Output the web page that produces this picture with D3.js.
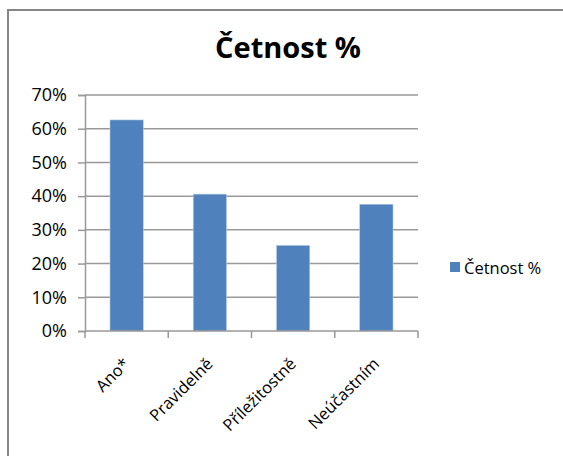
<!DOCTYPE html>
<html>
<head>
<meta charset="utf-8">
<script src="https://cdn.jsdelivr.net/npm/d3@7"></script>
<style>
  body { margin: 0; background: #fff; }
  svg text { font-family: "Open Sans", "Noto Sans", sans-serif; fill: #000; }
</style>
</head>
<body>
<div id="chart"></div>
<script>
// data
const categories = ["Ano*", "Pravidelně", "Příležitostně", "Neúčastním"];
const values = [0.626, 0.406, 0.254, 0.376];
const seriesName = "Četnost %";
const yTicks = [0, 0.1, 0.2, 0.3, 0.4, 0.5, 0.6, 0.7];

const width = 563, height = 456;
const plot = { left: 85, right: 418, top: 95, bottom: 331 };
const barColor = "#4f81bd", gridColor = "#999";

const svg = d3.select("#chart").append("svg")
    .attr("width", width).attr("height", height);

// outer frame (runs off the right/bottom edge like the screenshot)
svg.append("rect")
    .attr("x", 8).attr("y", 10).attr("width", 600).attr("height", 500)
    .attr("fill", "#fff").attr("stroke", "#868686").attr("stroke-width", 2);

svg.append("text")
    .attr("x", 288).attr("y", 58).attr("text-anchor", "middle")
    .style("font-size", "29px").style("font-weight", "bold")
    .text(seriesName);

const x = d3.scaleBand().domain(categories)
    .range([plot.left, plot.right]).paddingInner(0.6).paddingOuter(0.3);
const xEdge = d3.scaleLinear().domain([0, categories.length]).range([plot.left, plot.right]);
const y = d3.scaleLinear().domain([0, 0.7]).range([plot.bottom, plot.top]);

// gridlines
svg.append("g").selectAll("line").data(yTicks.slice(1)).enter().append("line")
    .attr("x1", plot.left).attr("x2", plot.right)
    .attr("y1", d => y(d)).attr("y2", d => y(d))
    .attr("stroke", gridColor).attr("stroke-width", 1.5);

// bars
svg.append("g").selectAll("rect").data(values).enter().append("rect")
    .attr("x", (d, i) => x(categories[i]))
    .attr("y", d => y(d))
    .attr("width", x.bandwidth())
    .attr("height", d => plot.bottom - y(d))
    .attr("fill", barColor)
    .attr("stroke", "#b9cde5").attr("stroke-width", 0.6);

// y axis
const yAxis = svg.append("g").attr("transform", `translate(${plot.left},0)`)
    .call(d3.axisLeft(y).tickValues(yTicks).tickFormat(d3.format(".0%")).tickSizeOuter(0).tickSize(7).tickPadding(11));
yAxis.select(".domain").attr("stroke", gridColor).attr("stroke-width", 1.5);
yAxis.selectAll(".tick line").attr("stroke", gridColor).attr("stroke-width", 1.5);
yAxis.selectAll(".tick text").style("font-size", "18px").attr("fill", "#000");

// x axis
const xAxisG = svg.append("g").attr("transform", `translate(0,${plot.bottom})`);
xAxisG.append("line").attr("x1", plot.left).attr("x2", plot.right)
    .attr("stroke", gridColor).attr("stroke-width", 1.5);
xAxisG.selectAll("line.tk").data(d3.range(categories.length + 1)).enter().append("line")
    .attr("class", "tk")
    .attr("x1", d => xEdge(d)).attr("x2", d => xEdge(d))
    .attr("y1", 0).attr("y2", 7)
    .attr("stroke", gridColor).attr("stroke-width", 1.5);
xAxisG.selectAll("text").data(categories).enter().append("text")
    .attr("transform", d => `translate(${x(d) + x.bandwidth() / 2 + 4},${34}) rotate(-45)`)
    .attr("text-anchor", "end")
    .style("font-size", "16.5px")
    .text(d => d);

// legend
const legend = svg.append("g").attr("transform", "translate(450,262)");
legend.append("rect").attr("width", 10).attr("height", 10).attr("fill", barColor);
legend.append("text").attr("x", 14).attr("y", 11.5).style("font-size", "16.5px").text(seriesName);
</script>
</body>
</html>
